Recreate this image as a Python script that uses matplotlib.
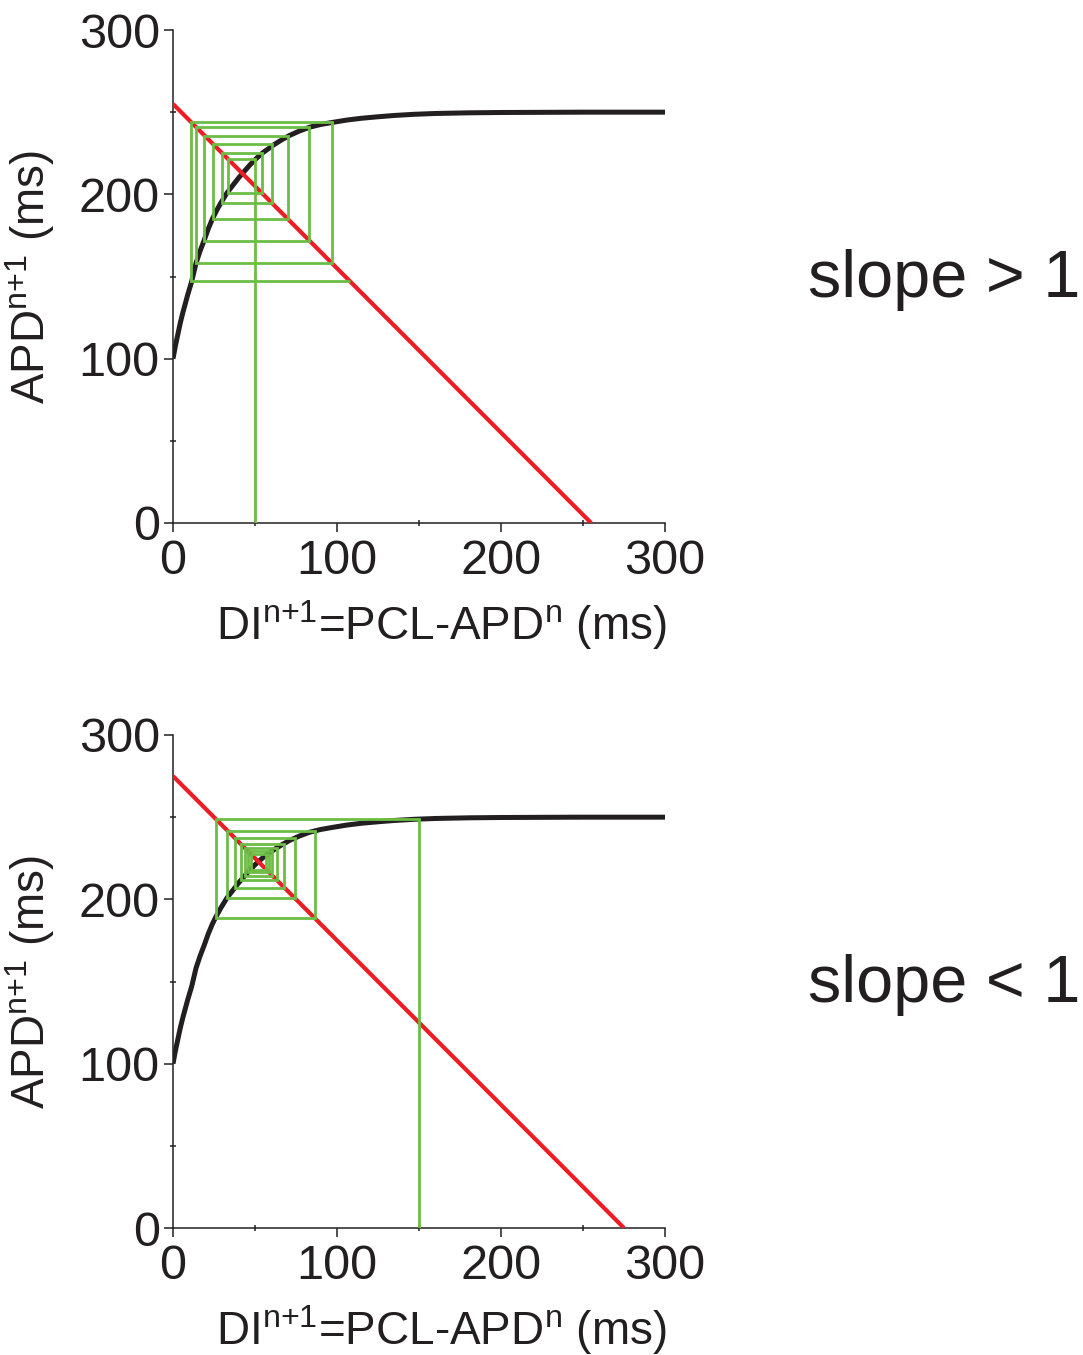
import matplotlib
matplotlib.use("Agg")
import matplotlib.pyplot as plt
from matplotlib.ticker import MultipleLocator

plt.rcParams['font.family'] = ['Liberation Sans', 'DejaVu Sans']
plt.rcParams['mathtext.fontset'] = 'custom'
plt.rcParams['mathtext.rm'] = 'Liberation Sans'
plt.rcParams['mathtext.it'] = 'Liberation Sans'

# Restitution curve
curve_di = [0, 1.5, 3, 4.5, 6, 7.5, 9, 11.4, 14, 16.5, 19, 21.5, 24, 26.5, 29, 33, 36.5,
            40, 43.5, 47, 51, 55, 58.5, 62, 66.5, 71, 77, 83.5, 90, 98, 106, 115, 125,
            135, 147, 160, 180, 200, 225, 250, 300]
curve_apd = [100, 108, 115, 122, 128, 133.5, 139, 147, 158, 165.5, 172, 179, 185, 190,
             194.5, 201, 205.5, 210, 214, 218, 222, 225.5, 228, 230.5, 233.3, 235.8, 238.5,
             240.9, 242.5, 243.9, 245.2, 246.3, 247.2, 248, 248.7, 249.2, 249.6, 249.8,
             249.9, 250, 250]

# Red line: APD = PCL - DI
pcl_top = 255
pcl_bottom = 275

# Top cobweb (diverging) vertices
top_cob_di = [50, 50, 33.4, 33.4, 54.3, 54.3, 29.6, 29.6, 60.4, 60.4, 24.4, 24.4,
              70.1, 70.1, 19.2, 19.2, 83.1, 83.1, 14.1, 14.1, 96.8, 96.8, 11.1, 11.1, 107.9]
top_cob_apd = [0, 221.6, 221.6, 200.7, 200.7, 225.4, 225.4, 194.6, 194.6, 230.6, 230.6, 184.9,
               184.9, 235.8, 235.8, 171.9, 171.9, 240.9, 240.9, 158.2, 158.2, 243.9, 243.9, 147.1, 147.1]

# Bottom cobweb (converging) vertices
bot_cob_di = [150, 150, 26.2, 26.2, 86.5, 86.5, 33.2, 33.2, 74.3, 74.3, 37.6, 37.6,
              67.8, 67.8, 41.5, 41.5, 63.5, 63.5, 43.8, 43.8, 60.5, 60.5, 45.8, 45.8,
              58.5, 58.5, 47.5, 47.5, 57, 57]
bot_cob_apd = [0, 248.8, 248.8, 188.5, 188.5, 241.8, 241.8, 200.7, 200.7, 237.4, 237.4, 207.2,
               207.2, 233.5, 233.5, 211.5, 211.5, 231.2, 231.2, 214.5, 214.5, 229.2, 229.2, 216.5,
               216.5, 227.5, 227.5, 218.0, 218.0, 227.0]

xticks = [0, 100, 200, 300]
yticks = [0, 100, 200, 300]
slope_labels = ["slope > 1", "slope < 1"]

RED = '#ee1c24'
GREEN = '#6cbd45'
BLACK = '#231f20'

fig = plt.figure(figsize=(10.83, 13.55), dpi=100)
W, H = 1083, 1355

def make_ax(top_px):
    bottom_px = top_px + 493
    return fig.add_axes([173 / W, 1 - bottom_px / H, 492 / W, 493 / H])

ax1 = make_ax(30)
ax2 = make_ax(735)

panels = [(ax1, pcl_top, top_cob_di, top_cob_apd, slope_labels[0], 280),
          (ax2, pcl_bottom, bot_cob_di, bot_cob_apd, slope_labels[1], 985)]

for ax, pcl, cdi, capd, slab, ty in panels:
    ax.plot(curve_di, curve_apd, color=BLACK, lw=3.6, solid_capstyle='butt',
            solid_joinstyle='round', zorder=2)
    ax.plot([0, pcl], [pcl, 0], color=RED, lw=3.0, solid_capstyle='butt', zorder=3)
    ax.plot(cdi, capd, color=GREEN, lw=2.0, solid_joinstyle='miter',
            solid_capstyle='butt', zorder=4)
    ax.set_xlim(0, 300)
    ax.set_ylim(0, 300)
    for s in ['top', 'right']:
        ax.spines[s].set_visible(False)
    for s in ['left', 'bottom']:
        ax.spines[s].set_linewidth(1.1)
        ax.spines[s].set_color(BLACK)
    ax.set_xticks(xticks)
    ax.set_yticks(yticks)
    ax.xaxis.set_minor_locator(MultipleLocator(50))
    ax.yaxis.set_minor_locator(MultipleLocator(50))
    ax.tick_params(which='major', direction='out', length=6.5, width=1.1, color=BLACK,
                   labelsize=35, labelcolor=BLACK)
    ax.tick_params(axis='x', which='major', pad=5)
    ax.tick_params(axis='y', which='major', pad=3)
    ax.tick_params(which='minor', direction='inout', length=5, width=1.1, color=BLACK)
    ax.set_xlabel(r'DI$^{\mathrm{n{+}1}}$=PCL-APD$^{\mathrm{n}}$ (ms)', fontsize=33,
                  color=BLACK)
    ax.xaxis.set_label_coords(0.545, -0.152)
    ax.set_ylabel(r'APD$^{\mathrm{n{+}1}}$ (ms)', fontsize=33, color=BLACK)
    ax.yaxis.set_label_coords(-0.235, 0.5)
    ax.patch.set_alpha(0)
    fig.text(808 / W, 1 - ty / H, slab, fontsize=48, color=BLACK, va='center', ha='left')

fig.savefig('out.png', dpi=100)
